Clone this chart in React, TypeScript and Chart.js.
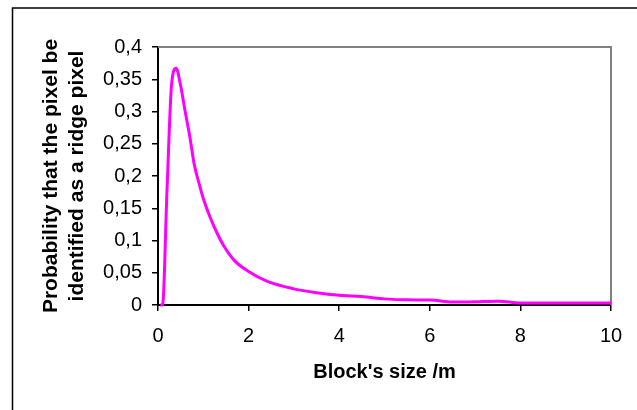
import React, { useEffect, useRef } from "react";
import { Chart, registerables } from "chart.js";

Chart.register(...registerables);

const blockSizes = [0.05, 0.1, 0.2, 0.3, 0.4, 0.5, 0.6, 0.7, 0.8, 0.9, 1.0, 1.15, 1.3, 1.45, 1.7, 2.0, 2.4, 3.0, 3.5, 4.0, 4.5, 5.0, 5.5, 6.0, 6.5, 7.0, 7.5, 8.0, 8.5, 9.0, 9.5, 10];
const probabilities = [0, 0, 0.18, 0.342, 0.367, 0.34, 0.3, 0.262, 0.218, 0.19, 0.165, 0.136, 0.112, 0.092, 0.068, 0.052, 0.037, 0.025, 0.019, 0.015, 0.013, 0.0095, 0.008, 0.0078, 0.0045, 0.005, 0.006, 0.003, 0.003, 0.003, 0.003, 0.003];

const xTitle = "Block's size /m";
const yTitle = ["Probability that the pixel be", "identified as a ridge pixel"];

const FONT = "'Liberation Sans', Arial, sans-serif";

const framePlugin = {
  id: "frame",
  beforeDraw(chart: any) {
    const { ctx, width, height } = chart;
    ctx.save();
    ctx.fillStyle = "#ffffff";
    ctx.fillRect(0, 0, width, height);
    ctx.strokeStyle = "#000000";
    ctx.lineWidth = 1.5;
    ctx.beginPath();
    ctx.moveTo(12.5, height);
    ctx.lineTo(12.5, 8);
    ctx.lineTo(width, 8);
    ctx.stroke();
    ctx.restore();
  },
  beforeDatasetsDraw(chart: any) {
    const { ctx, chartArea } = chart;
    ctx.save();
    ctx.strokeStyle = "#808080";
    ctx.lineWidth = 2;
    ctx.beginPath();
    ctx.moveTo(chartArea.left, chartArea.top);
    ctx.lineTo(chartArea.right, chartArea.top);
    ctx.lineTo(chartArea.right, chartArea.bottom);
    ctx.stroke();
    ctx.restore();
  },
};

export default function App() {
  const ref = useRef<HTMLCanvasElement | null>(null);
  useEffect(() => {
    document.body.style.margin = "0";
    const canvas = ref.current;
    if (!canvas) return;
    const points = blockSizes.map((x, i) => ({ x, y: probabilities[i] }));
    const chart = new Chart(canvas, {
      type: "line",
      data: {
        datasets: [
          {
            data: points,
            borderColor: "#FF00FF",
            backgroundColor: "#FF00FF",
            borderWidth: 3,
            pointRadius: 0,
            cubicInterpolationMode: "monotone",
            fill: false,
            clip: false,
          },
        ],
      },
      options: {
        responsive: false,
        animation: false,
        layout: { padding: { left: 0, right: 26, top: 47, bottom: 0 } },
        plugins: { legend: { display: false }, tooltip: { enabled: false } },
        scales: {
          x: {
            type: "linear",
            min: 0,
            max: 10,
            afterFit(scale: any) {
              scale.height = 105;
            },
            border: { display: true, color: "#000000", width: 2 },
            grid: { drawOnChartArea: false, drawTicks: true, tickLength: 6, color: "#000000", lineWidth: 1.5 },
            ticks: {
              stepSize: 2,
              padding: 13,
              color: "#000000",
              font: { family: FONT, size: 20 },
              maxRotation: 0,
            },
            title: {
              display: true,
              text: xTitle,
              color: "#000000",
              font: { family: FONT, size: 20, weight: "bold", lineHeight: 1.2 },
              padding: { top: 0, bottom: 26 },
            },
          },
          y: {
            type: "linear",
            min: 0,
            max: 0.4,
            afterFit(scale: any) {
              scale.width = 158;
            },
            border: { display: true, color: "#000000", width: 2 },
            grid: { drawOnChartArea: false, drawTicks: true, tickLength: 6, color: "#000000", lineWidth: 1.5 },
            ticks: {
              stepSize: 0.05,
              padding: 10,
              color: "#000000",
              font: { family: FONT, size: 20 },
              callback: (v: any) => String(Math.round(Number(v) * 100) / 100).replace(".", ","),
            },
            title: {
              display: true,
              text: yTitle,
              color: "#000000",
              font: { family: FONT, size: 21, weight: "bold", lineHeight: 1.25 },
              padding: { top: 38, bottom: 0 },
            },
          },
        },
      },
      plugins: [framePlugin],
    } as any);
    return () => chart.destroy();
  }, []);
  return <canvas ref={ref} width={637} height={410} style={{ display: "block" }} />;
}
